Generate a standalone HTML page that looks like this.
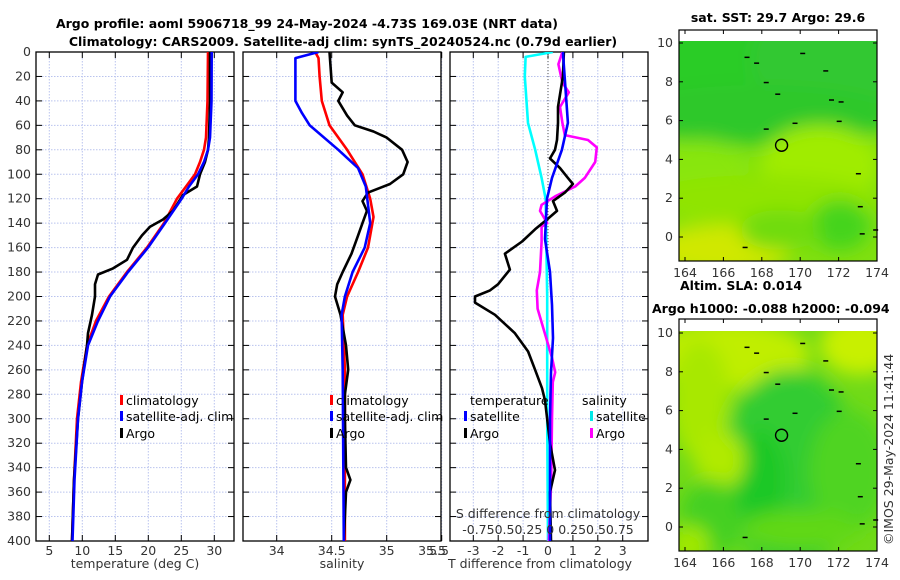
<!DOCTYPE html>
<html><head><meta charset="utf-8">
<style>
html,body{margin:0;padding:0;background:#fff;}
svg{display:block;font-family:"DejaVu Sans","Liberation Sans",sans-serif;}
.tk{font-size:12.5px;fill:#333;}
.tt{font-size:12.5px;font-weight:bold;fill:#000;}
.lg{font-size:12.5px;fill:#000;}
</style></head>
<body>
<svg id="fig" width="900" height="580" viewBox="0 0 900 580" xmlns="http://www.w3.org/2000/svg">
<defs>
<clipPath id="c1"><rect x="36" y="52" width="198" height="489"/></clipPath>
<clipPath id="c2"><rect x="243" y="52" width="198" height="489"/></clipPath>
<clipPath id="c3"><rect x="450" y="52" width="198" height="489"/></clipPath>
<filter id="bl" x="-50%" y="-50%" width="200%" height="200%"><feGaussianBlur stdDeviation="9"/></filter>
<clipPath id="m1c"><rect x="679" y="41" width="198" height="220"/></clipPath>
<clipPath id="m2c"><rect x="679" y="331" width="198" height="220"/></clipPath>
</defs>
<text class="tt" x="307" y="28" text-anchor="middle">Argo profile: aoml 5906718_99 24-May-2024 -4.73S 169.03E (NRT data)</text>
<text class="tt" x="343" y="46" text-anchor="middle">Climatology: CARS2009. Satellite-adj clim: synTS_20240524.nc (0.79d earlier)</text>
<g id="g1"></g>
<g id="g2"></g>
<g id="g3"></g>
<g id="maps"></g>
<text x="893" y="545" font-size="12.5" fill="#333" transform="rotate(-90 893 545)">©IMOS 29-May-2024 11:41:44</text>
</svg>
<script>
// ---- data ----
const depthTicks=[0,20,40,60,80,100,120,140,160,180,200,220,240,260,280,300,320,340,360,380,400];
const tTicks=[5,10,15,20,25,30];
const sTicks=[34,34.5,35,35.5];
const dTicks=[-3,-2,-1,0,1,2,3];
const climTdepth=[0,40,70,80,90,100,110,120,140,160,180,200,220,240,270,300,350,400];
const climT=[29.05,28.97,28.74,28.44,27.83,27.08,25.71,24.35,22.38,19.80,16.77,14.05,12.08,10.71,9.80,9.20,8.74,8.44];
const satT=[29.61,29.58,29.35,29.05,28.44,27.53,26.17,25.06,22.53,19.95,16.92,14.20,12.38,10.86,9.95,9.35,8.82,8.52];
const argoTdepth=[0,40,70,80,90,100,110,117,130,137,143,150,160,170,177,182,190,200,215,230,240,270,300,350,400];
const argoT=[29.35,29.35,29.20,29.05,28.59,27.83,27.38,25.26,23.74,22.23,20.26,19.05,17.68,16.77,14.65,12.38,11.92,11.92,11.47,10.86,10.71,9.95,9.35,8.74,8.44];
const climSdepth=[0,5,20,40,60,80,100,120,135,160,180,200,215,260,400];
const climS=[34.35,34.38,34.39,34.41,34.48,34.64,34.78,34.85,34.88,34.83,34.74,34.64,34.60,34.62,34.62];
const satSdepth=[0,5,40,50,60,80,95,110,140,160,180,200,215,260,400];
const satS=[34.38,34.17,34.17,34.23,34.30,34.56,34.74,34.81,34.85,34.80,34.69,34.62,34.59,34.60,34.61];
const argoSdepth=[0,25,33,40,52,60,65,70,80,90,100,108,115,122,130,140,150,165,180,190,200,215,240,260,280,300,340,350,360,400];
const argoS=[34.48,34.50,34.60,34.56,34.64,34.71,34.88,35.00,35.14,35.19,35.15,35.03,34.83,34.78,34.82,34.78,34.74,34.68,34.60,34.55,34.53,34.58,34.63,34.65,34.62,34.62,34.63,34.67,34.63,34.61];
const dSatTdepth=[0,58,80,103,120,153,180,207,234,262,300,350,400];
const dSatT=[0.60,0.80,0.56,0.16,-0.04,-0.12,0.08,0.16,0.20,0.12,0.08,0.08,0.08];
const dArgoTdepth=[0,20,45,58,72,80,87,95,103,108,115,122,130,137,145,155,165,178,190,195,200,205,215,230,245,260,275,285,320,342,360,400];
const dArgoT=[0.64,0.60,0.40,0.40,0.36,0.28,0.08,0.48,0.80,1.00,0.68,0.20,0.36,-0.04,-0.52,-1.04,-1.73,-1.53,-2.01,-2.33,-2.93,-2.93,-2.13,-1.33,-0.80,-0.52,-0.24,-0.12,0.08,0.28,0.08,0.12];
const dSatSdepth=[0,4,20,58,80,103,120,200,300,400];
const dSatS=[0.06,-0.28,-0.29,-0.25,-0.16,-0.08,-0.03,-0.01,-0.01,0];
const dArgoSdepth=[0,10,25,33,45,58,68,72,78,90,103,110,118,125,130,140,143,155,180,195,210,230,250,262,270,300,350,400];
const dArgoS=[0.18,0.13,0.18,0.26,0.15,0.18,0.21,0.50,0.61,0.59,0.46,0.34,0.09,-0.08,-0.10,-0.01,-0.08,-0.08,-0.10,-0.14,-0.13,-0.04,0.05,0.09,0.06,0.05,0.04,0.01];
const lonTicks=[164,166,168,170,172,174];
const latTicks=[0,2,4,6,8,10];

const NS="http://www.w3.org/2000/svg";
function mk(tag,attrs,parent){const e=document.createElementNS(NS,tag);for(const k in attrs)e.setAttribute(k,attrs[k]);if(parent)parent.appendChild(e);return e;}
const y=d=>52+d*1.2225;
const xT=v=>49.3+(v-5)*6.6;
const xS=v=>276.7+(v-34)*110;
const xD=v=>548+v*24.9;
const xDS=v=>548+v*80;

function panel(g,x0,clip,ticks,xf,labels){
  depthTicks.forEach(d=>{const l=mk('line',{x1:x0,x2:x0+198,y1:y(d),y2:y(d),stroke:'#b9c3ee','stroke-width':1,'stroke-dasharray':'1.5,1.5'},g);
    
    });
  ticks.forEach(t=>{const X=xf(t);const l=mk('line',{x1:X,x2:X,y1:52,y2:541,stroke:'#b9c3ee','stroke-width':1,'stroke-dasharray':'1.5,1.5'},g);
    
    
    mk('line',{x1:X,x2:X,y1:541,y2:535,stroke:'#000'},g);mk('line',{x1:X,x2:X,y1:52,y2:58,stroke:'#000'},g);
    if(labels){const lx=Math.min(X,432);const tx=mk('text',{x:(x0===243?lx:X),y:555,'text-anchor':'middle',class:'tk'},g);tx.textContent=String(t);
      
      }
  });
  depthTicks.forEach(d=>{mk('line',{x1:x0,x2:x0+6,y1:y(d),y2:y(d),stroke:'#000'},g);mk('line',{x1:x0+198,x2:x0+192,y1:y(d),y2:y(d),stroke:'#000'},g);});
  const f=mk('rect',{x:x0,y:52,width:198,height:489,fill:'none',stroke:'#000','stroke-width':1.3},g);
  
  
}
function line(g,clip,depths,vals,xf,color,name){
  const pts=depths.map((d,i)=>xf(vals[i]).toFixed(1)+','+y(d).toFixed(1)).join(' ');
  const p=mk('polyline',{points:pts,fill:'none',stroke:color,'stroke-width':2.6,'stroke-linejoin':'round','clip-path':'url(#'+clip+')'},g);
  
  
}
function txt(g,x,yy,s,cls,anchor,name){const t=mk('text',{x:x,y:yy,class:cls,'text-anchor':anchor||'start'},g);t.textContent=s;
  
  return t;}
function leg(g,x,yy,color,s,name){mk('rect',{x:x,y:yy-10,width:3,height:10,fill:color},g);txt(g,x+6,yy,s,'lg','start',name);}

const g1=document.getElementById('g1'),g2=document.getElementById('g2'),g3=document.getElementById('g3');
panel(g1,36,'c1',tTicks,xT,true);
depthTicks.forEach(d=>{const t=txt(g1,31,y(d)+4,String(d),'tk','end','y-tick-label');});
line(g1,'c1',climTdepth,climT,xT,'#ff0000','temp-climatology-line');
line(g1,'c1',argoTdepth,argoT,xT,'#000000','temp-argo-line');
line(g1,'c1',climTdepth,satT,xT,'#0000ff','temp-satellite-line');
txt(g1,135,568,'temperature (deg C)','tk','middle','x-axis-title-temperature');
leg(g1,120,405,'#ff0000','climatology','legend-climatology');
leg(g1,120,421,'#0000ff','satellite-adj. clim','legend-satellite');
leg(g1,120,438,'#000000','Argo','legend-argo');

panel(g2,243,'c2',sTicks,xS,true);
line(g2,'c2',climSdepth,climS,xS,'#ff0000','sal-climatology-line');
line(g2,'c2',argoSdepth,argoS,xS,'#000000','sal-argo-line');
line(g2,'c2',satSdepth,satS,xS,'#0000ff','sal-satellite-line');
txt(g2,342,568,'salinity','tk','middle','x-axis-title-salinity');
leg(g2,330,405,'#ff0000','climatology','legend-climatology-2');
leg(g2,330,421,'#0000ff','satellite-adj. clim','legend-satellite-2');
leg(g2,330,438,'#000000','Argo','legend-argo-2');

panel(g3,450,'c3',dTicks,xD,true);
txt(g3,449,555,'5.5','tk','end','x-tick-label-partial');
mk('line',{x1:548,x2:548,y1:52,y2:541,stroke:'#555','stroke-width':1,'stroke-dasharray':'1,2'},g3);
line(g3,'c3',dSatSdepth,dSatS,xDS,'#00ffff','dsal-satellite-line');
line(g3,'c3',dArgoSdepth,dArgoS,xDS,'#ff00ff','dsal-argo-line');
line(g3,'c3',dArgoTdepth,dArgoT,xD,'#000000','dtemp-argo-line');
line(g3,'c3',dSatTdepth,dSatT,xD,'#0000ff','dtemp-satellite-line');
txt(g3,540,568,'T difference from climatology','tk','middle','x-axis-title-tdiff');
txt(g3,548,518,'S difference from climatology','tk','middle','s-axis-title');
txt(g3,548,534,'-0.750.50.25 0  0.250.50.75','tk','middle','s-axis-ticks');
txt(g3,470,405,'temperature','lg','start','legend-temperature-header');
leg(g3,464,421,'#0000ff','satellite','legend-dtemp-satellite');
leg(g3,464,438,'#000000','Argo','legend-dtemp-argo');
txt(g3,582,405,'salinity','lg','start','legend-salinity-header');
leg(g3,590,421,'#00e8e8','satellite','legend-dsal-satellite');
leg(g3,590,438,'#ff00ff','Argo','legend-dsal-argo');

// ---- maps ----
const gm=document.getElementById('maps');
function map(top,dataTop,bottom,lat10,lat0,blobs,bg,clip,name){
  const g=mk('g',{},gm);
  
  
  mk('rect',{x:679,y:top,width:198,height:bottom-top,fill:'#fff'},g);
  const cg=mk('g',{'clip-path':'url(#'+clip+')'},g);
  mk('rect',{x:679,y:dataTop,width:198,height:bottom-dataTop,fill:bg},cg);
  const bg2=mk('g',{filter:'url(#bl)'},cg);
  blobs.forEach(b=>mk('ellipse',{cx:b[0],cy:b[1],rx:b[2],ry:b[3],fill:b[4]},bg2));
  const X=lo=>685+(lo-164)*19.2;const Y=la=>lat0+(lat10-lat0)*la/10;
  const c=mk('circle',{cx:X(169.03),cy:Y(4.73),r:6,fill:'none',stroke:'#000','stroke-width':1.4},g);
  
  
  [[167.1,9.3],[167.6,9.0],[168.1,8.0],[168.7,7.4],[170,9.5],[171.2,8.6],[171.5,7.1],[172,7.0],[171.9,6.0],[169.6,5.9],[168.1,5.6],[172.9,3.3],[173,1.6],[173.1,0.2],[173.8,0.4],[167,-0.5]].forEach(p=>{
    mk('rect',{x:X(p[0]),y:Y(p[1]),width:5,height:1.5,fill:'#000'},g);});
  lonTicks.forEach(l=>{const xx=X(l);mk('line',{x1:xx,x2:xx,y1:bottom,y2:bottom-4,stroke:'#000'},g);mk('line',{x1:xx,x2:xx,y1:top,y2:top+4,stroke:'#000'},g);
    txt(g,xx,bottom+16,String(l),'tk','middle','map-lon-label');});
  latTicks.forEach(l=>{const yy=Y(l);mk('line',{x1:679,x2:683,y1:yy,y2:yy,stroke:'#000'},g);mk('line',{x1:877,x2:873,y1:yy,y2:yy,stroke:'#000'},g);
    txt(g,673,yy+4,String(l),'tk','end','map-lat-label');});
  mk('rect',{x:679,y:top,width:198,height:bottom-top,fill:'none',stroke:'#000','stroke-width':1.2},g);
  return g;
}
map(30,41,261,43,237,[
  [730,60,90,60,'#2ccc26'],[830,60,80,60,'#30c830'],[760,115,140,30,'#2ec82c'],
  [700,170,50,30,'#88e610'],[820,165,60,40,'#a0ec00'],[760,200,120,25,'#90e400'],
  [720,250,70,25,'#d0e800'],[840,225,30,25,'#44d41c'],[780,230,40,20,'#70dc10']
],'#80e010','m1c','sst-map');
txt(gm,778,22,'sat. SST: 29.7 Argo: 29.6','tt','middle','sst-map-title');
map(319,331,551,333,527,[
  [730,355,80,35,'#c0ee00'],[860,345,40,30,'#c8f000'],[700,400,30,60,'#a8e800'],
  [790,470,70,100,'#30cc30'],[760,480,25,50,'#1ec828'],[850,470,40,60,'#50d420'],
  [720,460,25,30,'#b0ea00'],[710,520,30,40,'#44d024'],[800,530,60,20,'#60d818'],[690,545,20,20,'#a0e800']
],'#70da18','m2c','sla-map');
txt(gm,680,290,'Altim. SLA: 0.014','tt','start','sla-map-title');
txt(gm,652,313,'Argo h1000: -0.088 h2000: -0.094','tt','start','sla-map-subtitle');
</script>
</body></html>
